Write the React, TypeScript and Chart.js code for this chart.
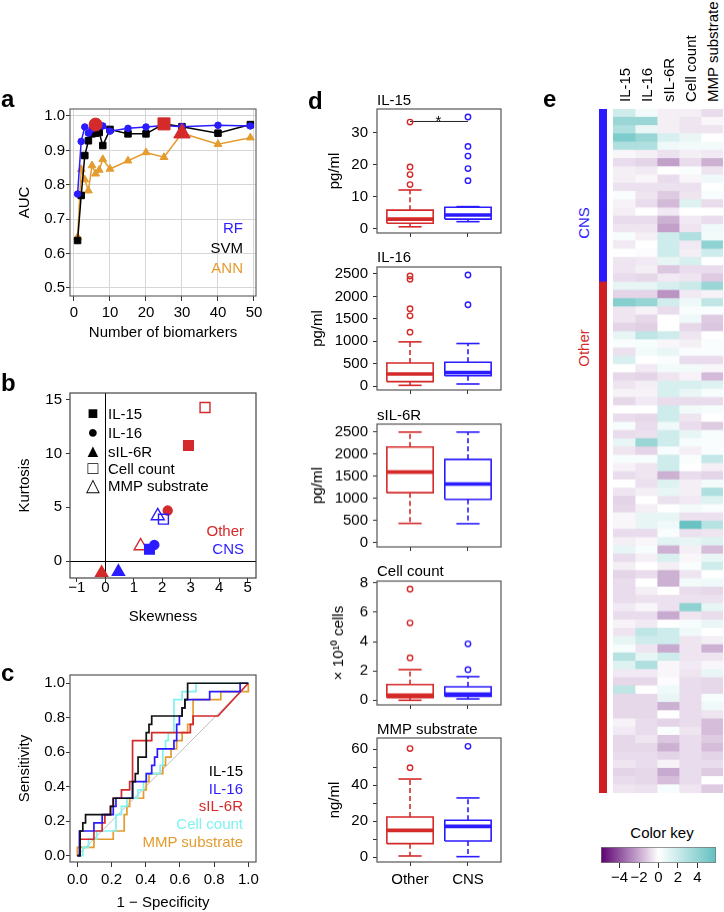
import React, { useEffect, useRef } from 'react';
import { Chart, registerables } from 'chart.js';

Chart.register(...registerables);

const FONT = '"Liberation Sans", Arial, Helvetica, sans-serif';
Chart.defaults.font.family = FONT;
Chart.defaults.font.size = 15;
Chart.defaults.color = '#000';

const BLUE = '#2b1bff';
const RED = '#d42a2a';
const ORANGE = '#e49c2f';
const CYAN = '#80f2f2';
const BLACK = '#000000';

// ---------------- Panel a ----------------
const nBiomarkers = [1, 2, 3, 4, 5, 6, 7, 8, 10, 15, 20, 25, 30, 40, 49];
const aucRF = [0.773, 0.926, 0.968, 0.95, 0.962, 0.975, 0.972, 0.971, 0.956, 0.964, 0.968, 0.972, 0.969, 0.973, 0.971];
const aucSVM = [0.638, 0.769, 0.885, 0.928, 0.948, 0.95, 0.952, 0.914, 0.961, 0.948, 0.948, 0.977, 0.969, 0.95, 0.975];
const aucANN = [0.648, 0.845, 0.815, 0.783, 0.856, 0.832, 0.843, 0.874, 0.846, 0.87, 0.894, 0.88, 0.95, 0.918, 0.937];
const aTicksX = [0, 10, 20, 30, 40, 50];
const aTicksY = [0.5, 0.6, 0.7, 0.8, 0.9, 1.0];

// ---------------- Panel b ----------------
const biomarkers = ['IL-15', 'IL-16', 'sIL-6R', 'Cell count', 'MMP substrate'];
const skewOther = [2.92, 2.19, -0.13, 3.5, 1.24];
const kurtOther = [10.75, 4.7, -1.1, 14.3, 1.4];
const skewCNS = [1.55, 1.72, 0.46, 2.04, 1.84];
const kurtCNS = [1.1, 1.5, -1.0, 3.9, 4.2];
const bTicksX = [-1, 0, 1, 2, 3, 4, 5];
const bTicksY = [0, 5, 10, 15];

// ---------------- Panel c (ROC vertices: [1 - specificity, sensitivity]) ----------------
const rocIL15 = [[0,0],[0.016,0],[0.016,0.143],[0.032,0.143],[0.032,0.19],[0.048,0.19],[0.048,0.238],[0.194,0.238],[0.194,0.286],[0.21,0.286],[0.21,0.333],[0.323,0.333],[0.323,0.429],[0.339,0.429],[0.339,0.476],[0.355,0.476],[0.355,0.571],[0.403,0.571],[0.403,0.714],[0.419,0.714],[0.419,0.762],[0.435,0.762],[0.435,0.81],[0.613,0.81],[0.613,0.857],[0.629,0.857],[0.629,0.905],[0.645,0.905],[0.645,1],[1,1]];
const rocIL16 = [[0,0],[0.012,0],[0.012,0.143],[0.097,0.143],[0.097,0.19],[0.145,0.19],[0.145,0.238],[0.21,0.238],[0.21,0.286],[0.226,0.286],[0.226,0.333],[0.323,0.333],[0.323,0.429],[0.403,0.429],[0.403,0.476],[0.435,0.476],[0.435,0.524],[0.452,0.524],[0.452,0.571],[0.468,0.571],[0.468,0.619],[0.565,0.619],[0.565,0.667],[0.581,0.667],[0.581,0.762],[0.597,0.762],[0.597,0.81],[0.613,0.81],[0.613,0.857],[0.629,0.857],[0.629,0.905],[0.774,0.905],[0.774,0.952],[0.952,0.952],[0.952,1],[1,1]];
const rocSIL6R = [[0,0],[0.016,0],[0.016,0.095],[0.097,0.095],[0.097,0.143],[0.145,0.143],[0.145,0.19],[0.161,0.19],[0.161,0.238],[0.194,0.238],[0.194,0.286],[0.21,0.286],[0.21,0.333],[0.258,0.333],[0.258,0.381],[0.306,0.381],[0.306,0.429],[0.323,0.429],[0.323,0.667],[0.435,0.667],[0.435,0.714],[0.661,0.714],[0.661,0.762],[0.677,0.762],[0.677,0.81],[0.823,0.81],[1,1]];
const rocCell = [[0,0],[0.032,0],[0.032,0.048],[0.065,0.048],[0.065,0.095],[0.113,0.095],[0.113,0.143],[0.226,0.143],[0.226,0.238],[0.258,0.238],[0.258,0.286],[0.29,0.286],[0.29,0.333],[0.355,0.333],[0.355,0.381],[0.387,0.381],[0.387,0.429],[0.403,0.429],[0.403,0.476],[0.484,0.476],[0.484,0.524],[0.5,0.524],[0.5,0.619],[0.516,0.619],[0.516,0.667],[0.532,0.667],[0.532,0.714],[0.565,0.714],[0.565,0.905],[0.613,0.905],[0.613,0.952],[0.694,0.952],[0.694,1],[1,1]];
const rocMMP = [[0,0],[0,0.048],[0.097,0.048],[0.097,0.095],[0.21,0.095],[0.21,0.143],[0.274,0.143],[0.274,0.238],[0.29,0.238],[0.29,0.286],[0.306,0.286],[0.306,0.333],[0.387,0.333],[0.387,0.381],[0.403,0.381],[0.403,0.429],[0.419,0.429],[0.419,0.476],[0.5,0.476],[0.5,0.524],[0.516,0.524],[0.516,0.571],[0.548,0.571],[0.548,0.619],[0.581,0.619],[0.581,0.667],[0.613,0.667],[0.613,0.714],[0.645,0.714],[0.645,0.762],[0.677,0.762],[0.677,0.905],[0.839,0.905],[0.839,0.952],[1,0.952],[1,1]];
const cTicks = [0, 0.2, 0.4, 0.6, 0.8, 1.0];

// ---------------- Panel d (whisker low, Q1, median, Q3, whisker high) ----------------
const groups = ['Other', 'CNS'];
const il15Other = [0.6, 1.7, 3.0, 5.8, 12.1];
const il15OtherOut = [13.8, 16.9, 19.3, 33.3];
const il15CNS = [2.2, 3.0, 4.3, 6.7, 6.9];
const il15CNSOut = [15.0, 18.8, 22.7, 25.7, 34.9];
const il15Sig = 33.5;
const il16Other = [15, 97, 269, 515, 985];
const il16OtherOut = [1201, 1567, 1724, 2382, 2455];
const il16CNS = [45, 231, 300, 530, 948];
const il16CNSOut = [1813, 2478];
const sil6rOther = [430, 1125, 1594, 2160, 2500];
const sil6rCNS = [423, 974, 1322, 1880, 2500];
const cellOther = [0.0, 0.18, 0.34, 1.07, 2.09];
const cellOtherOut = [2.89, 5.27, 7.57];
const cellCNS = [0.09, 0.27, 0.41, 0.91, 1.61];
const cellCNSOut = [2.09, 3.84];
const mmpOther = [0.74, 7.6, 15.0, 22.4, 43.5];
const mmpOtherOut = [49.8, 60.4];
const mmpCNS = [0.37, 9.1, 17.2, 20.6, 33.0];
const mmpCNSOut = [61.7];

// ---------------- Panel e (z-scores per sample: IL-15, IL-16, sIL-6R, Cell count, MMP) ----------------
const cnsRows = [
  [1.8, 0.5, -0.4, -0.4, -0.8], [3.8, 3.8, -0.4, -0.6, -0.2], [3.0, 0.8, -0.4, -0.6, -0.6],
  [4.8, 3.8, 1.5, 0.8, 0.0], [3.0, 3.0, 0.6, 0.5, 0.5], [-0.2, -0.4, -0.7, -0.4, -0.5],
  [-0.8, -1.0, -2.2, -0.8, -1.8], [-0.4, -0.5, 0.0, 0.2, -0.6], [-0.4, -0.2, -0.8, -0.2, 0.6],
  [-0.7, -0.7, -0.7, -0.7, 0.0], [0.2, -0.6, -1.2, -0.6, 0.3], [-0.3, -0.8, -1.6, 1.2, -0.8],
  [-0.4, 0.0, -0.5, 0.0, 0.0], [-0.8, -0.8, -1.8, -0.5, -0.8], [-0.6, -0.6, -2.2, -0.6, 0.6],
  [0.3, -0.4, 1.8, 3.0, 0.5], [-0.5, 0.0, 1.8, -0.5, 4.2], [0.0, -0.1, 1.8, -0.4, 1.8],
  [-0.6, -0.5, 0.9, 1.5, 0.0], [-0.6, -0.4, -1.3, -0.8, -0.8], [-0.8, -0.9, -0.5, -0.6, -1.2],
];
const otherRows = [
  [0.9, 0.9, 1.5, 2.0, 3.8], [-1.0, -1.0, -2.5, -0.5, -0.3], [4.5, 3.9, 1.7, 0.6, 2.4],
  [-0.6, -0.3, -0.8, 0.2, 0.2], [-0.6, -0.9, 0.0, 0.6, -1.2], [-1.0, -1.1, 0.0, -0.9, -1.3],
  [0.9, 2.4, 1.8, -0.6, 0.0], [0.2, 0.3, -0.2, -0.4, 0.2], [-0.7, 0.5, 0.8, 0.2, 0.2],
  [1.5, 0.0, 0.2, -0.8, -0.8], [0.0, -0.5, 0.5, 0.5, -0.2], [-0.9, -1.0, -0.6, -0.3, -1.6],
  [-0.6, -0.4, 1.5, 1.5, 1.2], [-0.3, -0.3, 1.5, 0.8, 0.3], [-0.9, -0.5, -0.8, -0.8, -0.8],
  [0.0, 0.0, 1.8, 0.5, 0.3], [-0.8, -0.9, 1.8, -0.6, 0.0], [0.3, -0.8, 0.6, -0.8, -1.2],
  [-0.8, -0.7, 1.8, 0.9, 0.3], [0.9, 3.8, 1.8, 0.3, 0.2], [-0.6, -1.0, 0.3, -0.4, 0.2],
  [0.3, 0.3, 1.8, 0.2, 2.2], [-0.3, -0.6, 1.8, 0.0, -0.4], [-0.8, -0.6, -1.8, -0.8, -1.0],
  [0.0, -0.7, 1.2, -0.4, 0.5], [-0.6, -0.4, 0.9, -0.4, 3.0], [-1.0, 0.0, -0.7, -0.5, 1.2],
  [-0.9, -0.4, 0.0, 0.5, 0.2], [-0.2, 0.9, 0.9, -0.7, -0.7], [-0.2, 0.9, 0.6, 5.6, 2.7],
  [-0.8, -0.8, 0.2, -0.7, -0.6], [-0.4, -0.2, 1.1, 0.9, 1.2], [0.9, 0.3, -1.8, -0.4, -1.5],
  [-0.8, -0.4, 1.4, -0.2, 0.8], [-0.4, 0.0, -0.4, 0.2, 1.8], [-1.0, -0.8, -1.8, -0.6, 0.0],
  [-0.8, 0.0, -1.8, 0.5, 0.6], [-0.8, -0.4, 0.0, -0.8, -0.9], [-0.8, -0.7, -0.7, -0.7, -0.7],
  [-0.5, -0.2, -0.7, 4.2, 0.9], [-0.8, -0.8, -2.0, -0.6, -0.8], [-0.3, -0.5, 0.0, 0.3, 0.8],
  [-0.6, 2.4, 1.8, 0.6, 0.0], [0.9, 1.8, 1.8, -0.6, -0.4], [0.3, -0.6, -2.0, -0.6, -1.8],
  [2.7, 0.9, 1.8, -0.6, -0.6], [1.2, 3.0, -0.2, -0.5, -0.2], [-0.5, -0.5, -0.2, -0.6, 0.8],
  [-0.9, -0.9, -0.1, -0.8, -0.9], [2.4, 0.0, 0.6, -0.8, -0.9], [-0.9, -0.9, 0.8, -0.8, 0.3],
  [-0.9, -0.9, -1.8, -0.8, 0.6], [-0.9, -0.9, 0.0, -0.8, -0.6], [-0.3, -0.8, -1.0, -0.8, -1.5],
  [-0.5, -0.8, 0.2, -0.6, -1.5], [-0.9, -0.6, -1.3, -0.8, -1.2], [-0.9, -0.9, -1.8, -0.8, -1.5],
  [-0.8, -0.8, -1.0, -0.8, -1.0], [-0.6, -0.8, -0.3, -0.8, -0.8], [-1.0, -0.9, -2.0, -0.8, -1.2],
  [-0.8, -0.9, -1.5, -0.8, 0.0], [-0.6, -0.7, 0.3, -0.6, -1.2],
];
const keyTicks = [-4, -2, 0, 2, 4];
const KEY_EXT = 5.9;

// ---------------- helpers ----------------
const PURPLE_END = [92, 0, 112];
const TEAL_END = [98, 192, 192];
function heatColor(v: number) {
  const t = Math.min(Math.abs(v) / KEY_EXT, 1);
  const c = v < 0 ? PURPLE_END : TEAL_END;
  const ch = (i: number) => Math.round(255 + (c[i] - 255) * t);
  return `rgb(${ch(0)},${ch(1)},${ch(2)})`;
}
const minus = (v: number) => (v < 0 ? '\u2212' + Math.abs(v) : String(v));
const argmax = (a: number[]) => a.indexOf(Math.max(...a));
const pts = (xs: number[], ys: number[]) => xs.map((x, i) => ({ x, y: ys[i] }));
const pairs = (a: number[][]) => a.map(([x, y]) => ({ x, y }));

const framePlugin = {
  id: 'frame',
  afterDatasetsDraw(chart: any, _args: any, opts: any) {
    if (!opts || !opts.color) return;
    const { ctx, chartArea: a } = chart;
    ctx.save();
    ctx.strokeStyle = opts.color;
    ctx.lineWidth = opts.width || 1;
    ctx.strokeRect(a.left, a.top, a.right - a.left, a.bottom - a.top);
    ctx.restore();
  },
};

function zeroPad(s: any) {
  s.paddingTop = 0; s.paddingBottom = 0; s.paddingLeft = 0; s.paddingRight = 0;
}

function yAxis(o: any) {
  return {
    type: 'linear', position: 'left', min: o.min, max: o.max,
    afterBuildTicks: (s: any) => { s.ticks = o.ticks.map((v: number) => ({ value: v })); },
    afterFit: (s: any) => { s.width = o.width; zeroPad(s); },
    ticks: { callback: o.fmt || ((v: number) => String(v)), padding: o.pad ?? 2, autoSkip: false, maxRotation: 0, color: '#000', font: { size: 15 } },
    grid: { drawOnChartArea: !!o.grid, color: o.grid || 'rgba(0,0,0,0)', tickLength: o.tl ?? 4, tickColor: '#333', lineWidth: 1 },
    border: { display: false },
    title: o.title ? { display: true, text: o.title, color: '#000', font: { size: 15 }, padding: { top: o.titlePad ?? 16, bottom: 0 } } : { display: false },
  };
}
function xAxis(o: any) {
  return {
    type: 'linear', position: 'bottom', min: o.min, max: o.max,
    afterBuildTicks: (s: any) => { s.ticks = o.ticks.map((v: number) => ({ value: v })); },
    afterFit: (s: any) => { s.height = o.height; zeroPad(s); },
    ticks: { callback: o.fmt || ((v: number) => String(v)), padding: o.pad ?? 3, autoSkip: false, maxRotation: 0, color: '#000', font: { size: 15 } },
    grid: { drawOnChartArea: !!o.grid, color: o.grid || 'rgba(0,0,0,0)', tickLength: o.tl ?? 4, tickColor: '#333', lineWidth: 1 },
    border: { display: false },
    title: o.title ? { display: true, text: o.title, color: '#000', font: { size: 15 }, padding: { top: 0, bottom: o.titlePad ?? 2 } } : { display: false },
  };
}
function baseOptions(pad: any, scales: any, frame?: any) {
  return {
    responsive: false, animation: false, events: [],
    layout: { padding: pad },
    plugins: { legend: { display: false }, tooltip: { enabled: false }, title: { display: false }, frame: frame || {} },
    scales,
  };
}

// ---------------- chart configs ----------------
function makePanelA() {
  const iRF = argmax(aucRF), iSVM = argmax(aucSVM), iANN = argmax(aucANN);
  const line = (data: any, color: string, style: string, r: number) => ({
    data, borderColor: color, backgroundColor: color, pointBackgroundColor: color, pointBorderColor: color,
    borderWidth: 1.5, pointStyle: style, pointRadius: r, pointBorderWidth: 1, showLine: true, clip: false,
  });
  const best = (x: number, y: number, style: string, r: number) => ({
    data: [{ x, y }], showLine: false, pointStyle: style, pointRadius: r,
    pointBackgroundColor: RED, pointBorderColor: RED, pointBorderWidth: 1, clip: false,
  });
  return {
    type: 'line',
    data: {
      datasets: [
        best(nBiomarkers[iRF], aucRF[iRF], 'circle', 6.5),
        best(nBiomarkers[iSVM], aucSVM[iSVM], 'rect', 8.5),
        best(nBiomarkers[iANN], aucANN[iANN], 'triangle', 9.5),
        line(pts(nBiomarkers, aucRF), BLUE, 'circle', 3.3),
        line(pts(nBiomarkers, aucSVM), BLACK, 'rect', 4.6),
        line(pts(nBiomarkers, aucANN), ORANGE, 'triangle', 4.5),
      ],
    },
    options: baseOptions({ top: 19, right: 14, left: 0, bottom: 0 }, {
      x: xAxis({ min: -1.11, max: 50.56, ticks: aTicksX, height: 49, grid: '#d6d6d6', tl: 5, pad: 3, title: 'Number of biomarkers', titlePad: 3 }),
      y: yAxis({ min: 0.4767, max: 1.0203, ticks: aTicksY, width: 70, grid: '#d6d6d6', tl: 4, pad: 1, fmt: (v: number) => v.toFixed(1), title: 'AUC', titlePad: 16 }),
    }, { color: '#666', width: 1.2 }),
    plugins: [framePlugin],
  };
}

function makePanelB() {
  const styles = ['rect', 'circle', 'triangle', 'rect', 'triangle'];
  const filled = [true, true, true, false, false];
  const radius = [6.8, 4.5, 7, 7, 7.5];
  const ds = (xs: number[], ys: number[], color: string) => ({
    data: pts(xs, ys), showLine: false, pointStyle: styles, pointRadius: radius,
    pointBackgroundColor: filled.map((f) => (f ? color : 'rgba(0,0,0,0)')),
    pointBorderColor: color, pointBorderWidth: 1.4, clip: false,
  });
  const zeroLine = (c: any) => (c.tick && c.tick.value === 0 ? '#000' : 'rgba(0,0,0,0)');
  const xa: any = xAxis({ min: -1.24, max: 5.29, ticks: bTicksX, height: 54, tl: 4, pad: -3, fmt: minus, title: 'Skewness', titlePad: 6 });
  xa.grid.drawOnChartArea = true; xa.grid.color = zeroLine;
  const ya: any = yAxis({ min: -1.58, max: 15.65, ticks: bTicksY, width: 70, tl: 4, pad: 4, title: 'Kurtosis', titlePad: 16 });
  ya.grid.drawOnChartArea = true; ya.grid.color = zeroLine;
  return {
    type: 'scatter',
    data: { datasets: [ds(skewCNS, kurtCNS, BLUE), ds(skewOther, kurtOther, RED)] },
    options: baseOptions({ top: 13, right: 14, left: 0, bottom: 0 }, { x: xa, y: ya }, { color: '#444', width: 1.2 }),
    plugins: [framePlugin],
  };
}

function makePanelC() {
  const curve = (d: number[][], color: string) => ({ data: pairs(d), borderColor: color, borderWidth: 1.7, pointRadius: 0, showLine: true });
  return {
    type: 'line',
    data: {
      datasets: [
        curve(rocIL15, '#111111'),
        curve(rocIL16, BLUE),
        curve(rocSIL6R, RED),
        curve(rocCell, CYAN),
        curve(rocMMP, ORANGE),
        { data: pairs([[0, 0], [1, 1]]), borderColor: '#bdbdbd', borderWidth: 1, pointRadius: 0 },
      ],
    },
    options: baseOptions({ top: 15, right: 14, left: 0, bottom: 0 }, {
      x: xAxis({ min: -0.043, max: 1.045, ticks: cTicks, height: 50, tl: 5, pad: 4, fmt: (v: number) => v.toFixed(1), title: '1 \u2212 Specificity', titlePad: 0 }),
      y: yAxis({ min: -0.037, max: 1.048, ticks: cTicks, width: 70, tl: 4, pad: 1, fmt: (v: number) => v.toFixed(1), title: 'Sensitivity', titlePad: 16 }),
    }, { color: '#555', width: 1.2 }),
    plugins: [framePlugin],
  };
}

const BOX_HALF = 0.4;
const CAP_HALF = 0.2;
function boxDatasets(stats: number[], outliers: number[], g: number, color: string) {
  const [lo, q1, med, q3, hi] = stats;
  const seg = (a: any[], extra: any = {}) => ({ data: a, borderColor: color, borderWidth: 1.6, pointRadius: 0, showLine: true, ...extra });
  return [
    seg([{ x: g - BOX_HALF, y: med }, { x: g + BOX_HALF, y: med }], { borderWidth: 3.6 }),
    seg([{ x: g - BOX_HALF, y: q1 }, { x: g + BOX_HALF, y: q1 }, { x: g + BOX_HALF, y: q3 }, { x: g - BOX_HALF, y: q3 }, { x: g - BOX_HALF, y: q1 }]),
    seg([{ x: g, y: q3 }, { x: g, y: hi }], { borderDash: [5, 3] }),
    seg([{ x: g, y: q1 }, { x: g, y: lo }], { borderDash: [5, 3] }),
    seg([{ x: g - CAP_HALF, y: hi }, { x: g + CAP_HALF, y: hi }]),
    seg([{ x: g - CAP_HALF, y: lo }, { x: g + CAP_HALF, y: lo }]),
    {
      data: outliers.map((v) => ({ x: g, y: v })), showLine: false, pointStyle: 'circle', pointRadius: 2.7,
      pointBorderWidth: 1.4, pointBorderColor: color, pointBackgroundColor: 'rgba(0,0,0,0)', borderColor: color, clip: false,
    },
  ];
}

const D_LEFT = 300;
const D_WIDTH = 210;
const dPanels = [
  { title: 'IL-15', unit: 'pg/ml', top: 109, bottom: 233, min: -1.34, max: 37.4, ticks: [0, 10, 20, 30], other: il15Other, otherOut: il15OtherOut, cns: il15CNS, cnsOut: il15CNSOut, sig: il15Sig, titlePad: 26 },
  { title: 'IL-16', unit: 'pg/ml', top: 267, bottom: 390, min: -89, max: 2656, ticks: [0, 500, 1000, 1500, 2000, 2500], other: il16Other, otherOut: il16OtherOut, cns: il16CNS, cnsOut: il16CNSOut, titlePad: 9 },
  { title: 'sIL-6R', unit: 'pg/ml', top: 424.3, bottom: 547.3, min: -104, max: 2681, ticks: [0, 500, 1000, 1500, 2000, 2500], other: sil6rOther, otherOut: [], cns: sil6rCNS, cnsOut: [], titlePad: 9 },
  { title: 'Cell count', unit: '\u00d7 10\u00b9\u2070 cells', top: 581, bottom: 704.7, min: -0.32, max: 8.12, ticks: [0, 2, 4, 6, 8], other: cellOther, otherOut: cellOtherOut, cns: cellCNS, cnsOut: cellCNSOut, titlePad: 30 },
  { title: 'MMP substrate', unit: 'ng/ml', top: 737.7, bottom: 861.7, min: -2.6, max: 66.3, ticks: [0, 10, 20, 30, 40, 50, 60], every: 20, other: mmpOther, otherOut: mmpOtherOut, cns: mmpCNS, cnsOut: mmpCNSOut, titlePad: 26, last: true },
];
const D_PAD_TOP = 12;
function dGeom(p: any) {
  const xh = p.last ? 30 : 10;
  const top = p.top - D_PAD_TOP;
  return { left: D_LEFT, top, width: D_WIDTH, height: p.bottom + xh - top, xh };
}
function makePanelD(p: any) {
  const g = dGeom(p);
  const datasets: any[] = [
    ...boxDatasets(p.other, p.otherOut, 1, RED),
    ...boxDatasets(p.cns, p.cnsOut, 2, BLUE),
  ];
  if (p.sig !== undefined) {
    datasets.push({ data: [{ x: 1, y: p.sig }, { x: 2, y: p.sig }], borderColor: '#222', borderWidth: 1, pointRadius: 0, showLine: true });
  }
  return {
    type: 'line',
    data: { datasets },
    options: baseOptions({ top: D_PAD_TOP, right: D_LEFT + D_WIDTH - 501, left: 0, bottom: 0 }, {
      x: xAxis({ min: 0.43, max: 2.57, ticks: [1, 2], height: g.xh, tl: 4, pad: 5, fmt: (v: number) => (p.last ? groups[v - 1] : '') }),
      y: yAxis({ min: p.min, max: p.max, ticks: p.ticks, width: 377 - D_LEFT, tl: 4, pad: 5, fmt: (v: number) => (p.every && v % p.every !== 0 ? '' : String(v)), title: p.unit, titlePad: p.titlePad }),
    }, { color: '#555', width: 1.2 }),
    plugins: [framePlugin],
  };
}

const heatRows = [...cnsRows, ...otherRows];
const rowLabels = heatRows.map((_, i) => String(i + 1));
function makeHeatmap() {
  return {
    type: 'bar',
    data: {
      labels: rowLabels,
      datasets: biomarkers.map((m, j) => ({
        label: m, data: heatRows.map(() => 1), backgroundColor: heatRows.map((r) => heatColor(r[j])),
        borderWidth: 0, barPercentage: 1, categoryPercentage: 1, inflateAmount: 0.4,
      })),
    },
    options: {
      ...baseOptions(0, {
        x: { type: 'linear', stacked: true, display: false, min: 0, max: biomarkers.length },
        y: { type: 'category', stacked: true, display: false },
      }),
      indexAxis: 'y',
    },
  };
}
function makeSidebar() {
  const nCNS = cnsRows.length;
  return {
    type: 'bar',
    data: {
      labels: rowLabels,
      datasets: [{
        data: heatRows.map(() => 1), backgroundColor: heatRows.map((_, i) => (i < nCNS ? BLUE : '#cf1f22')),
        borderWidth: 0, barPercentage: 1, categoryPercentage: 1, inflateAmount: 0.5,
      }],
    },
    options: {
      ...baseOptions(0, {
        x: { type: 'linear', display: false, min: 0, max: 1 },
        y: { type: 'category', display: false },
      }),
      indexAxis: 'y',
    },
  };
}
function makeKey() {
  const grad = (ctx: any) => {
    const chart = ctx.chart;
    if (!chart.chartArea) return '#fff';
    const x = chart.scales.x;
    const x0 = x.getPixelForValue(-KEY_EXT), x1 = x.getPixelForValue(KEY_EXT);
    const gr = chart.ctx.createLinearGradient(x0, 0, x1, 0);
    [-KEY_EXT, -KEY_EXT / 2, 0, KEY_EXT / 2, KEY_EXT].forEach((v, i) => gr.addColorStop(i / 4, heatColor(v)));
    return gr;
  };
  return {
    type: 'bar',
    data: {
      labels: [''],
      datasets: [{ data: [[-KEY_EXT, KEY_EXT]], backgroundColor: grad, borderColor: '#777', borderWidth: 1, borderSkipped: false, barPercentage: 1, categoryPercentage: 1 }],
    },
    options: {
      ...baseOptions({ top: 4, left: 6, right: 8, bottom: 0 }, {
        x: xAxis({ min: -KEY_EXT, max: KEY_EXT, ticks: keyTicks, height: 27, tl: 5, pad: 1, fmt: minus }),
        y: { type: 'category', display: false },
      }),
      indexAxis: 'y',
    },
  };
}

// ---------------- React ----------------
function ChartBox({ left, top, width, height, make }: any) {
  const ref = useRef<HTMLCanvasElement>(null);
  useEffect(() => {
    const chart = new Chart(ref.current as HTMLCanvasElement, make());
    return () => chart.destroy();
  }, []);
  return <canvas ref={ref} width={width} height={height} style={{ position: 'absolute', left, top, width, height }} />;
}

function Txt({ x, y, children, align = 'left', size = 15, color = '#000', bold = false, rot = false }: any) {
  const tx = align === 'left' ? '0' : align === 'center' ? '-50%' : '-100%';
  return (
    <div style={{
      position: 'absolute', left: x, top: y, fontFamily: FONT, fontSize: size, lineHeight: 1, color,
      fontWeight: bold ? 700 : 400, whiteSpace: 'nowrap',
      transform: rot ? 'translate(-50%,-50%) rotate(-90deg)' : `translate(${tx},-50%)`,
    }}>{children}</div>
  );
}

function ColLabel({ x, y, children }: any) {
  return (
    <div style={{
      position: 'absolute', left: x, top: y, fontFamily: FONT, fontSize: 15, lineHeight: 1, color: '#000',
      whiteSpace: 'nowrap', transformOrigin: '0 0', transform: 'rotate(-90deg) translate(0,-50%)',
    }}>{children}</div>
  );
}

const HEAT_LEFT = 612.7, HEAT_TOP = 109.3, HEAT_W = 110, HEAT_H = 683.9;

export default function App() {
  const colW = HEAT_W / biomarkers.length;
  const legendB = ['\u25a0', '\u25cf', '\u25b2', '\u25a1', '\u25b3'];
  const legendBY = [413.3, 432, 450.5, 467.5, 485];
  const dTitleY = [99, 256, 413.5, 570, 727.5];
  return (
    <div style={{ position: 'absolute', left: 0, top: 0, width: 724, height: 912, background: '#fff', overflow: 'hidden' }}>
      <ChartBox left={0} top={90} width={270} height={255} make={makePanelA} />
      <ChartBox left={0} top={380} width={270} height={252} make={makePanelB} />
      <ChartBox left={0} top={660} width={270} height={252} make={makePanelC} />
      {dPanels.map((p, i) => {
        const g = dGeom(p);
        return <ChartBox key={i} left={g.left} top={g.top} width={g.width} height={g.height} make={() => makePanelD(p)} />;
      })}
      <ChartBox left={598.7} top={HEAT_TOP} width={8.3} height={HEAT_H} make={makeSidebar} />
      <ChartBox left={HEAT_LEFT} top={HEAT_TOP} width={HEAT_W} height={HEAT_H} make={makeHeatmap} />
      <ChartBox left={595} top={843} width={129} height={47} make={makeKey} />

      <Txt x={1} y={99} size={24} bold>a</Txt>
      <Txt x={1} y={383} size={24} bold>b</Txt>
      <Txt x={1} y={673} size={24} bold>c</Txt>
      <Txt x={308} y={101} size={24} bold>d</Txt>
      <Txt x={543} y={99} size={24} bold>e</Txt>

      <Txt x={243} y={227} align="right" color={BLUE}>RF</Txt>
      <Txt x={243} y={247} align="right" color={BLACK}>SVM</Txt>
      <Txt x={243} y={267} align="right" color={ORANGE}>ANN</Txt>

      {biomarkers.map((m, i) => (
        <React.Fragment key={m}>
          <Txt x={93} y={legendBY[i]} align="center" size={18}>{legendB[i]}</Txt>
          <Txt x={108} y={legendBY[i]}>{m}</Txt>
        </React.Fragment>
      ))}
      <Txt x={244} y={530} align="right" color={RED}>{groups[0]}</Txt>
      <Txt x={244} y={548} align="right" color={BLUE}>{groups[1]}</Txt>

      <Txt x={243} y={770} align="right" color={BLACK}>{biomarkers[0]}</Txt>
      <Txt x={243} y={787.5} align="right" color={BLUE}>{biomarkers[1]}</Txt>
      <Txt x={243} y={805} align="right" color={RED}>{biomarkers[2]}</Txt>
      <Txt x={243} y={823} align="right" color={CYAN}>{biomarkers[3]}</Txt>
      <Txt x={243} y={841} align="right" color={ORANGE}>{biomarkers[4]}</Txt>

      {dPanels.map((p, i) => <Txt key={p.title} x={377} y={dTitleY[i]}>{p.title}</Txt>)}
      <Txt x={438.5} y={120} align="center">*</Txt>

      {biomarkers.map((m, j) => <ColLabel key={m} x={HEAT_LEFT + colW * (j + 0.5)} y={102}>{m}</ColLabel>)}
      <Txt x={583} y={223} rot color={BLUE}>{groups[1]}</Txt>
      <Txt x={583} y={348} rot color={RED}>{groups[0]}</Txt>
      <Txt x={662} y={832} align="center">Color key</Txt>
    </div>
  );
}
